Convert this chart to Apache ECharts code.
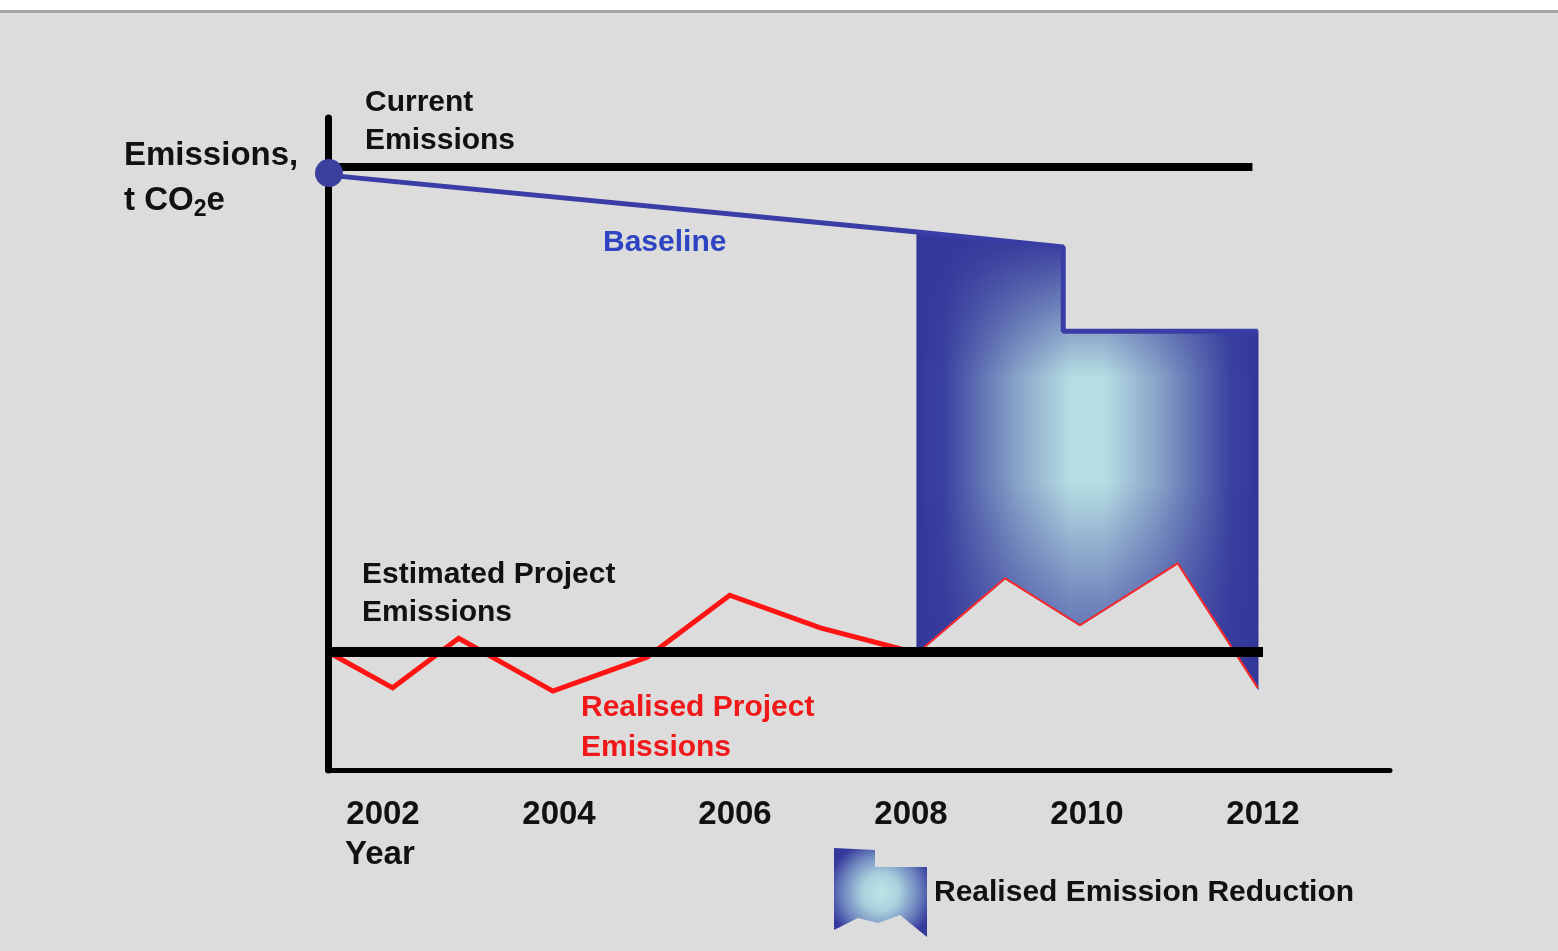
<!DOCTYPE html>
<html>
<head>
<meta charset="utf-8">
<title>Realised Emission Reduction</title>
<script src="https://cdn.jsdelivr.net/npm/echarts@6/dist/echarts.min.js"></script>
<style>
  html, body { margin: 0; padding: 0; background: #dcdcdc; }
  #topBand { position: absolute; left: 0; top: 0; width: 1558px; height: 10px; background: #fff; border-bottom: 3px solid #a6a6a6; z-index: 2; }
  #chart { position: absolute; left: 0; top: 0; width: 1558px; height: 951px; }
</style>
</head>
<body>
<div id="topBand"></div>
<div id="chart"></div>
<script>
  // 年份刻度
  const yearTicks = [2002, 2004, 2006, 2008, 2010, 2012]

  // 当前排放水平
  const currentYears = [2001.375, 2011.88]
  const currentValues = [92.5, 92.5]

  // 基准线
  const baselineYears = [2001.4, 2008.07, 2009.73, 2009.73, 2011.94]
  const baselineValues = [91.2, 82.5, 80.2, 67.3, 67.3]

  // 预计项目排放
  const estimatedYears = [2001.375, 2012.0]
  const estimatedValues = [18.1, 18.1]

  // 实际项目排放
  const realisedYears = [2001.4, 2002.11, 2002.86, 2003.93, 2005.0, 2005.94, 2006.97, 2008.07, 2009.07, 2009.92, 2011.03, 2011.94]
  const realisedValues = [17.9, 12.6, 20.2, 12.1, 17.3, 26.8, 21.8, 17.9, 29.4, 22.2, 31.7, 12.6]

  // 减排区间起点
  const reductionStart = 2008.07

  const fontFamily = "'Liberation Sans', Arimo, Arial, sans-serif"

  const pairs = (xs, ys) => xs.map((x, i) => [x, ys[i]])

  // 图例用的径向渐变
  const legendFill = () => new echarts.graphic.RadialGradient(0.5, 0.5, 0.6, [
    { offset: 0, color: '#bfe4e6' },
    { offset: 0.35, color: '#a9d0dd' },
    { offset: 0.7, color: '#7088c0' },
    { offset: 1, color: '#36399c' }
  ])
  // 区域：左右深、中间浅
  const sideFill = () => new echarts.graphic.LinearGradient(0, 0, 1, 0, [
    { offset: 0, color: '#34379a' },
    { offset: 0.08, color: '#3a42a0' },
    { offset: 0.3, color: '#8aa6c9' },
    { offset: 0.45, color: '#b6dde2' },
    { offset: 0.55, color: '#b6dde2' },
    { offset: 0.7, color: '#8aa6c9' },
    { offset: 0.92, color: '#3a42a0' },
    { offset: 1, color: '#34379a' }
  ])
  // 上下再压暗一层
  const topFill = () => new echarts.graphic.LinearGradient(0, 0, 0, 1, [
    { offset: 0, color: 'rgba(52,55,154,1)' },
    { offset: 0.06, color: 'rgba(52,55,154,0.85)' },
    { offset: 0.32, color: 'rgba(52,55,154,0)' },
    { offset: 0.55, color: 'rgba(52,55,154,0)' },
    { offset: 0.8, color: 'rgba(52,55,154,0.5)' },
    { offset: 1, color: 'rgba(52,55,154,0.8)' }
  ])

  const myChart = echarts.init(document.getElementById('chart'))

  const option = {
    backgroundColor: '#dcdcdc',
    animation: false,
    grid: { left: 328, right: 168, top: 118, bottom: 181 },
    xAxis: {
      type: 'value',
      min: 2001.375,
      max: 2013.443,
      axisLine: { show: true, lineStyle: { color: '#000', width: 5 } },
      axisTick: { show: false },
      splitLine: { show: false },
      axisLabel: {
        customValues: yearTicks,
        formatter: function (v) { return String(v) },
        margin: 28,
        fontSize: 33,
        fontWeight: 'bold',
        fontFamily: fontFamily,
        color: '#111'
      }
    },
    yAxis: {
      type: 'value',
      min: 0,
      max: 100,
      axisLine: { show: true, lineStyle: { color: '#000', width: 7 } },
      axisTick: { show: false },
      axisLabel: { show: false },
      splitLine: { show: false }
    },
    legend: {
      data: ['Realised Emission Reduction'],
      left: 829,
      top: 843,
      itemWidth: 93,
      itemHeight: 89,
      selectedMode: false,
      icon: 'path://M0,0 L41,2 L41,19 L93,19 L93,89 L66,67 L44,75 L24,70 L0,82 Z',
      itemStyle: { color: legendFill(), borderWidth: 0 },
      textStyle: {
        fontSize: 30,
        fontWeight: 'bold',
        fontFamily: fontFamily,
        color: '#111',
        padding: [11, 0, 0, 2]
      }
    },
    graphic: [
      {
        type: 'text', left: 365, top: 84,
        style: { text: 'Current\nEmissions', font: 'bold 30px ' + fontFamily, lineHeight: 38, fill: '#111' }
      },
      {
        type: 'text', left: 124, top: 139,
        style: {
          text: '{m|Emissions,}\n{m|t CO}{s|2}{m|e}',
          rich: {
            m: { font: 'bold 33px ' + fontFamily, lineHeight: 45, fill: '#111' },
            s: { font: 'bold 23px ' + fontFamily, lineHeight: 45, padding: [18, 0, 0, 0], fill: '#111' }
          }
        }
      },
      {
        type: 'text', left: 603, top: 224,
        style: { text: 'Baseline', font: 'bold 30px ' + fontFamily, lineHeight: 38, fill: '#2f44c2' }
      },
      {
        type: 'text', left: 362, top: 556,
        style: { text: 'Estimated Project\nEmissions', font: 'bold 30px ' + fontFamily, lineHeight: 38, fill: '#111' }
      },
      {
        type: 'text', left: 581, top: 688,
        style: { text: 'Realised Project\nEmissions', font: 'bold 30px ' + fontFamily, lineHeight: 40, fill: '#f01818' }
      },
      {
        type: 'text', left: 345, top: 836,
        style: { text: 'Year', font: 'bold 33px ' + fontFamily, lineHeight: 38, fill: '#111' }
      }
    ],
    series: [
      {
        name: 'Realised Emission Reduction',
        type: 'custom',
        z: 1,
        silent: true,
        itemStyle: { color: legendFill() },
        data: [[reductionStart, 0]],
        renderItem: function (params, api) {
          const top = pairs(baselineYears, baselineValues).filter(p => p[0] >= reductionStart)
          const bottom = pairs(realisedYears, realisedValues).filter(p => p[0] >= reductionStart).reverse()
          const points = top.concat(bottom).map(p => api.coord(p))
          return {
            type: 'group',
            children: [
              { type: 'polygon', shape: { points: points }, style: { fill: sideFill() } },
              { type: 'polygon', shape: { points: points }, style: { fill: topFill(), stroke: '#34379a', lineWidth: 1.5 } }
            ]
          }
        }
      },
      {
        name: 'Baseline',
        type: 'line',
        z: 2,
        silent: true,
        symbol: 'none',
        data: pairs(baselineYears, baselineValues),
        lineStyle: { color: '#3a3da6', width: 5 }
      },
      {
        name: 'Realised',
        type: 'line',
        z: 3,
        silent: true,
        symbol: 'none',
        data: pairs(realisedYears, realisedValues).filter(p => p[0] <= reductionStart),
        lineStyle: { color: '#ff1414', width: 5, join: 'miter' }
      },
      {
        name: 'RealisedInside',
        type: 'line',
        z: 3,
        silent: true,
        symbol: 'none',
        data: pairs(realisedYears, realisedValues).filter(p => p[0] >= reductionStart),
        lineStyle: { color: '#ff2a2a', width: 2 }
      },
      {
        name: 'Current',
        type: 'line',
        z: 4,
        silent: true,
        symbol: 'none',
        data: pairs(currentYears, currentValues),
        lineStyle: { color: '#000', width: 8, cap: 'butt' }
      },
      {
        name: 'Estimated',
        type: 'line',
        z: 4,
        silent: true,
        symbol: 'none',
        data: pairs(estimatedYears, estimatedValues),
        lineStyle: { color: '#000', width: 10, cap: 'butt' }
      },
      {
        name: 'StartBaseline',
        type: 'scatter',
        z: 5,
        silent: true,
        symbolSize: 28,
        data: [[2001.386, 91.56]],
        itemStyle: { color: '#3b3f9e', opacity: 1 }
      },
      {
        name: 'StartProject',
        type: 'scatter',
        z: 5,
        silent: true,
        symbolSize: 24,
        data: [[2001.352, 17.6]],
        itemStyle: { color: '#c6ecec', borderColor: '#56708e', borderWidth: 2, opacity: 1 }
      }
    ]
  }

  myChart.setOption(option)
  window.addEventListener('resize', () => {
    myChart.resize()
  }, false)
</script>
</body>
</html>
